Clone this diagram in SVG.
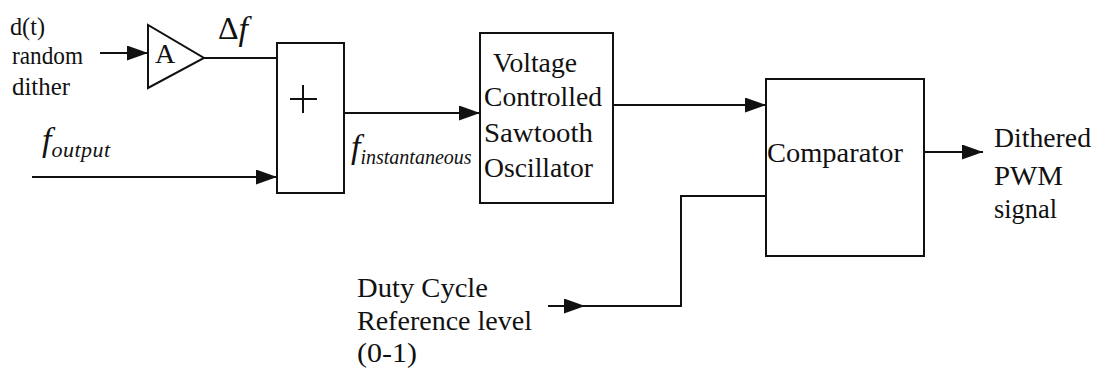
<svg xmlns="http://www.w3.org/2000/svg" width="1100" height="373" viewBox="0 0 1100 373">
<defs>
<style>
.ln{fill:none;stroke:#111;stroke-width:2}
.bx{fill:#fff;stroke:#111;stroke-width:2}
text{font-family:"Liberation Serif","Times New Roman",serif;fill:#111}
.it{font-style:italic}
</style>
<marker id="ah" markerWidth="21" markerHeight="15" refX="21" refY="7.5" orient="auto" markerUnits="userSpaceOnUse">
<path d="M0,0 L21,7.5 L0,15 Z" fill="#111"/>
</marker>
</defs>
<rect width="1100" height="373" fill="#fff"/>

<g id="connectors">
<line class="ln" x1="100" y1="53" x2="148" y2="53" marker-end="url(#ah)"/>
<line class="ln" x1="204" y1="58" x2="277" y2="58"/>
<line class="ln" x1="32" y1="177" x2="277" y2="177" marker-end="url(#ah)"/>
<line class="ln" x1="344" y1="113" x2="480" y2="113" marker-end="url(#ah)"/>
<line class="ln" x1="613" y1="105" x2="766" y2="105" marker-end="url(#ah)"/>
<line class="ln" x1="924" y1="152" x2="983" y2="152" marker-end="url(#ah)"/>
<line class="ln" x1="548" y1="306" x2="585" y2="306" marker-end="url(#ah)"/>
<polyline class="ln" points="585,306 681,306 681,196 766,196"/>
</g>

<g id="dither-label" font-family="Liberation Serif, serif">
<text x="10" y="35" font-size="25" textLength="35" lengthAdjust="spacingAndGlyphs">d(t)</text>
<text x="12" y="64" font-size="25" textLength="71" lengthAdjust="spacingAndGlyphs">random</text>
<text x="12" y="95" font-size="25" textLength="58" lengthAdjust="spacingAndGlyphs">dither</text>
</g>

<g id="amplifier">
<polygon class="bx" points="148,25 148,88 204,58"/>
<text x="155" y="63" font-size="28" font-family="Liberation Serif, serif">A</text>
</g>

<g id="delta-f-label">
<text x="218" y="39" font-size="32" font-family="Liberation Serif, serif">Δ<tspan font-style="italic" font-size="34" dy="1">f</tspan></text>
</g>

<g id="adder">
<rect class="bx" x="277" y="43" width="67" height="150"/>
<line class="ln" x1="290" y1="99" x2="317" y2="99"/>
<line class="ln" x1="303" y1="85" x2="303" y2="113"/>
</g>

<g id="f-output-label" font-family="Liberation Serif, serif">
<text class="it" x="42" y="151" font-size="34">f<tspan font-size="22" dy="6" letter-spacing="0.5">output</tspan></text>
</g>

<g id="f-inst-label" font-family="Liberation Serif, serif">
<text class="it" x="351" y="158" font-size="34">f<tspan font-size="20" dy="6">instantaneous</tspan></text>
</g>

<g id="vco" font-family="Liberation Serif, serif">
<rect class="bx" x="480" y="33" width="133" height="170"/>
<text x="493" y="72" font-size="27" textLength="84" lengthAdjust="spacingAndGlyphs">Voltage</text>
<text x="484" y="106" font-size="27" textLength="118" lengthAdjust="spacingAndGlyphs">Controlled</text>
<text x="484" y="142" font-size="27" textLength="109" lengthAdjust="spacingAndGlyphs">Sawtooth</text>
<text x="484" y="177" font-size="27" textLength="109" lengthAdjust="spacingAndGlyphs">Oscillator</text>
</g>

<g id="comparator" font-family="Liberation Serif, serif">
<rect class="bx" x="766" y="79" width="158" height="177"/>
<text x="767" y="162" font-size="27" textLength="136" lengthAdjust="spacingAndGlyphs">Comparator</text>
</g>

<g id="output-label" font-family="Liberation Serif, serif">
<text x="994" y="147" font-size="27" textLength="97" lengthAdjust="spacingAndGlyphs">Dithered</text>
<text x="994" y="185" font-size="27" textLength="69" lengthAdjust="spacingAndGlyphs">PWM</text>
<text x="994" y="218" font-size="27" textLength="63" lengthAdjust="spacingAndGlyphs">signal</text>
</g>

<g id="duty-label" font-family="Liberation Serif, serif">
<text x="357" y="297" font-size="27" textLength="131" lengthAdjust="spacingAndGlyphs">Duty Cycle</text>
<text x="357" y="330" font-size="27" textLength="175" lengthAdjust="spacingAndGlyphs">Reference level</text>
<text x="357" y="362" font-size="27" textLength="60" lengthAdjust="spacingAndGlyphs">(0-1)</text>
</g>
</svg>
